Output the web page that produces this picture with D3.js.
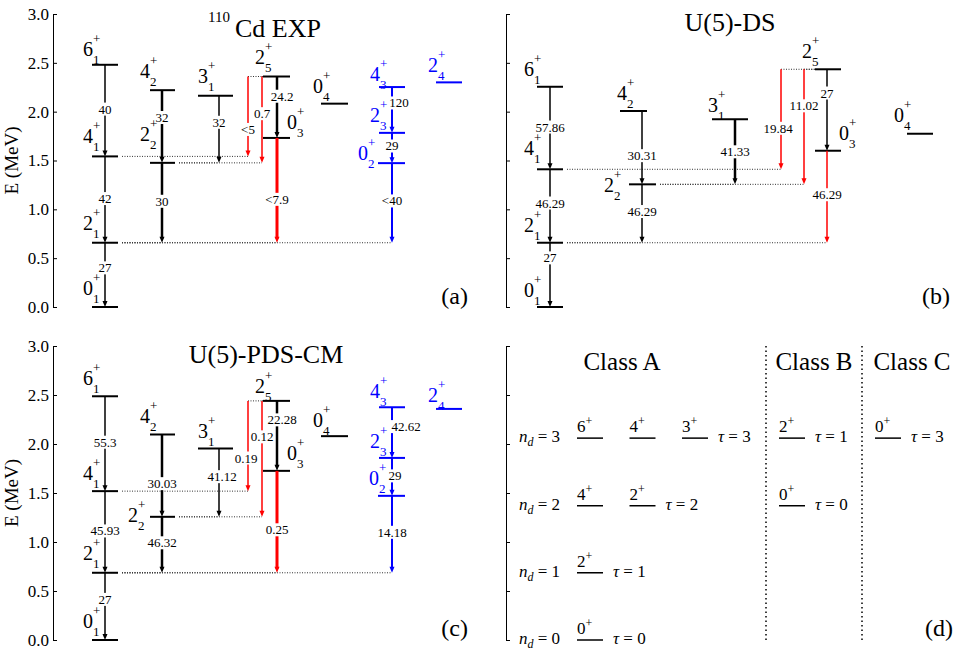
<!DOCTYPE html>
<meta charset="utf-8">
<style>
  body { margin: 0; background: #fff; }
  svg text { font-family: "Liberation Serif", "Times New Roman", "DejaVu Serif", serif; }
</style>
<script src="https://d3js.org/d3.v7.min.js"></script>
<div id="chart"></div>
<script>
// ---------------- data ----------------
// levels: name = J_index, energies in MeV
var expLevels = ["0_1","2_1","4_1","6_1","2_2","4_2","3_1","2_5","0_3","0_4","0_2","2_3","4_3","2_4"];
var expEnergy = [0, 0.658, 1.542, 2.480, 1.476, 2.220, 2.163, 2.36, 1.731, 2.082, 1.473, 1.783, 2.252, 2.30];

var dsLevels = ["0_1","2_1","4_1","6_1","2_2","4_2","3_1","2_5","0_3","0_4"];
var dsEnergy = [0, 0.658, 1.41, 2.255, 1.256, 2.007, 1.922, 2.434, 1.600, 1.774];

var pdsLevels = ["0_1","2_1","4_1","6_1","2_2","4_2","3_1","2_5","0_3","0_4","0_2","2_3","4_3","2_4"];
var pdsEnergy = [0, 0.686, 1.519, 2.487, 1.257, 2.097, 1.954, 2.44, 1.726, 2.08, 1.471, 1.858, 2.375, 2.358];

// E2 transitions (initial -> final) and B(E2) values in W.u.
var transFrom = ["6_1","4_1","2_1","4_2","2_2","3_1","2_5","2_5","2_5","0_3","4_3","2_3","0_2"];
var transTo   = ["4_1","2_1","0_1","2_2","2_1","2_2","4_1","2_2","0_3","2_1","2_3","0_2","2_1"];
var expBE2 = ["40","42","27","32","30","32","<5","0.7","24.2","<7.9","120","29","<40"];
var dsBE2  = ["57.86","46.29","27","30.31","46.29","41.33","19.84","11.02","27","46.29"];
var pdsBE2 = ["55.3","45.93","27","30.03","46.32","41.12","0.19","0.12","22.28","0.25","42.62","29","14.18"];

// panel (d): U(5) classification
var dClassNames = ["Class A","Class B","Class C"];
var dRowE  = [0, 0.686, 1.37, 2.06];          // n_d = 0..3
var dClass = [0, 0, 0, 0, 0, 0, 0, 1, 1, 2];
var dNd    = [0, 1, 2, 2, 3, 3, 3, 2, 3, 3];
var dJ     = ["0","2","4","2","6","4","3","0","2","0"];
var dTau   = [0, 1, 2, 2, 3, 3, 3, 0, 1, 3];

var yTicks = [0, 0.5, 1.0, 1.5, 2.0, 2.5, 3.0];

// ---------------- layout / style ----------------
var serif = '"Liberation Serif","Times New Roman","DejaVu Serif",serif';
var blueLevels = ["0_2","2_3","4_3","2_4"];
var transColor = ["#000","#000","#000","#000","#000","#000","#f00","#f00","#000","#f00","#00f","#00f","#00f"];

// level columns [x1, x2] and label offsets [dx, dy]
var colsAC = {"0_1":[92,118],"2_1":[92,118],"4_1":[92,118],"6_1":[92,118],"2_2":[150,175],"4_2":[150,175],
  "3_1":[198,233],"2_5":[263,290],"0_3":[263,290],"0_4":[321,348],"0_2":[378,405],"2_3":[379,405],
  "4_3":[379,405],"2_4":[436,462]};
var colsB = {"0_1":[537,563],"2_1":[537,563],"4_1":[537,563],"6_1":[537,563],"4_2":[620,647],"2_2":[629,656],
  "3_1":[712,748],"2_5":[815,841],"0_3":[815,841],"0_4":[907,933]};
var labA = {"0_1":[-9,-12],"2_1":[-9,-13],"4_1":[-9,-13],"6_1":[-9,-9],"4_2":[-10,-12],"2_2":[-10,-22],
  "3_1":[0,-13],"2_5":[-8,-13],"0_3":[24,-9],"0_4":[-8,-11],"4_3":[-9,-6],"2_3":[-9,-11],"0_2":[-20,-3],"2_4":[-8,-10]};
var labB = {"0_1":[-13,-10],"2_1":[-13,-11],"4_1":[-13,-14],"6_1":[-13,-11],"4_2":[-3,-11],"2_2":[-25,8],
  "3_1":[-4,-7],"2_5":[-13,-11],"0_3":[24,-11],"0_4":[-13,-12]};
var labC = {"0_1":[-9,-12],"2_1":[-9,-13],"4_1":[-9,-11],"6_1":[-9,-11],"4_2":[-10,-11],"2_2":[-22,5],
  "3_1":[0,-11],"2_5":[-8,-8],"0_3":[24,-11],"0_4":[-8,-9],"4_3":[-9,-9],"2_3":[-9,-10],"0_2":[-9,-11],"2_4":[-8,-7]};
// arrows: [x, stroke width, label dx, label dy]
var arrA = [[105,1.5,0,-1.5],[105,1.5,0,-1],[105,1.5,0,-7],[162,2.5,0,-9],[162,2.5,0,-1.5],[219,1.5,0,-7],
  [248,1.5,0,13],[262,1.5,0,-6],[277,2.5,5,-11],[277,3,0,9],[392,2,7,-7],[392,2,0,-2],[392,2,0,-2]];
var arrB = [[550,1.5,0,-1],[550,1.5,0,-3],[550,1.5,0,-17],[642,1.5,0,8],[642,1.5,0,-2],[735,2.5,0,0],
  [781,1.5,-3,9],[804,1.5,0,-21],[827,1.5,0,-17],[827,1.5,0,-2]];
var arrC = [[105,1.5,0,-1.5],[105,1.5,0,-1],[105,1.5,0,-7],[162,2.5,0,8],[162,2.5,0,-2],[219,1.5,3,-6],
  [248,1.5,-2,12],[262,1.5,0,-22],[277,2.5,5,-16],[277,3,0,8],[392,2,14,-6],[392,2,3,-1],[392,2,0,-2]];

var svg = d3.select("#chart").append("svg")
  .attr("width", 962).attr("height", 650)
  .style("background", "#fff")
  .attr("font-family", serif);

var x = d3.scaleIdentity();

function drawAxis(axisX, y, withLabels) {
  var ax = d3.axisLeft(y).tickValues(yTicks)
    .tickSizeInner(-4).tickSizeOuter(0).tickPadding(4)
    .tickFormat(withLabels ? d3.format(".1f") : "");
  var g = svg.append("g").attr("transform", "translate(" + axisX + ",0)").call(ax);
  g.attr("font-family", serif).attr("font-size", 17);
  g.selectAll("path, line").attr("stroke", "#000").attr("stroke-width", 1);
  g.selectAll("text").attr("fill", "#000");
}

function drawLevelPanel(p) {
  var y = d3.scaleLinear().domain([0, 3]).range(p.yRange);
  drawAxis(p.axisX, y, p.tickLabels);
  var E = {};
  p.levels.forEach(function(n, i) { E[n] = p.energy[i]; });
  var gDot = svg.append("g"), gLev = svg.append("g"), gArr = svg.append("g"), gLab = svg.append("g");

  function dotted(x1, x2, yy) {
    gDot.append("line").attr("x1", x(x1)).attr("x2", x(x2)).attr("y1", yy).attr("y2", yy)
      .attr("stroke", "#333").attr("stroke-width", 1).attr("stroke-dasharray", "1,1.5");
  }

  // levels
  p.levels.forEach(function(n) {
    var c = p.cols[n], yy = y(E[n]);
    var col = blueLevels.indexOf(n) >= 0 ? "#00f" : "#000";
    gLev.append("line").attr("x1", x(c[0])).attr("x2", x(c[1])).attr("y1", yy).attr("y2", yy)
      .attr("stroke", col).attr("stroke-width", 2);
    var o = p.lab[n], lx = x(c[0]) + o[0], ly = yy + o[1];
    var parts = n.split("_");
    gLab.append("text").attr("x", lx).attr("y", ly).attr("font-size", 20).attr("fill", col).text(parts[0]);
    gLab.append("text").attr("x", lx + 10).attr("y", ly + 8).attr("font-size", 13).attr("fill", col).text(parts[1]);
    gLab.append("text").attr("x", lx + 10).attr("y", ly - 13).attr("font-size", 13).attr("fill", col).text("+");
  });

  // transitions
  p.be2.forEach(function(v, i) {
    var f = transFrom[i], t = transTo[i], a = p.arr[i];
    var ax = x(a[0]), yS = y(E[f]), yT = y(E[t]);
    var cf = p.cols[f], ct = p.cols[t];
    if (a[0] < cf[0]) dotted(a[0], cf[0], yS);
    if (a[0] > ct[1]) dotted(ct[1] + 4, a[0], yT);
    var col = transColor[i];
    gArr.append("line").attr("x1", ax).attr("x2", ax).attr("y1", yS).attr("y2", yT - 4)
      .attr("stroke", col).attr("stroke-width", a[1]);
    gArr.append("path").attr("d", "M" + (ax - 2.5) + "," + (yT - 6) + "L" + (ax + 2.5) + "," + (yT - 6) + "L" + ax + "," + yT + "Z")
      .attr("fill", col);
    var lbl = gArr.append("g");
    var tx = lbl.append("text").attr("x", ax + a[2]).attr("y", (yS + yT) / 2 + a[3])
      .attr("text-anchor", "middle").attr("dominant-baseline", "central")
      .attr("font-size", 13).attr("fill", "#000").text(v);
    var bb = tx.node().getBBox();
    lbl.insert("rect", "text").attr("x", bb.x - 0.5).attr("y", bb.y + 1).attr("width", bb.width + 1)
      .attr("height", bb.height - 2).attr("fill", "#fff");
  });

  svg.append("text").attr("x", p.tag[0]).attr("y", p.tag[1]).attr("text-anchor", "end")
    .attr("font-size", 24).text(p.tag[2]);
  if (p.tickLabels) {
    svg.append("text").attr("transform", "translate(18," + (p.yRange[0] + p.yRange[1]) / 2 + ") rotate(-90)")
      .attr("text-anchor", "middle").attr("font-size", 19).text("E (MeV)");
  }
}

drawLevelPanel({levels: expLevels, energy: expEnergy, be2: expBE2, cols: colsAC, lab: labA, arr: arrA,
  axisX: 53, yRange: [307, 14], tickLabels: true, tag: [468, 304, "(a)"]});
drawLevelPanel({levels: dsLevels, energy: dsEnergy, be2: dsBE2, cols: colsB, lab: labB, arr: arrB,
  axisX: 506, yRange: [307, 14], tickLabels: false, tag: [950, 304, "(b)"]});
drawLevelPanel({levels: pdsLevels, energy: pdsEnergy, be2: pdsBE2, cols: colsAC, lab: labC, arr: arrC,
  axisX: 53, yRange: [640, 346], tickLabels: true, tag: [468, 636, "(c)"]});

// titles
svg.append("text").attr("x", 208).attr("y", 22).attr("font-size", 15).text("110");
svg.append("text").attr("x", 235).attr("y", 37).attr("font-size", 26).text("Cd EXP");
svg.append("text").attr("x", 730).attr("y", 31).attr("text-anchor", "middle").attr("font-size", 26).text("U(5)-DS");
svg.append("text").attr("x", 266).attr("y", 363).attr("text-anchor", "middle").attr("font-size", 26).text("U(5)-PDS-CM");

// ---------------- panel (d) ----------------
(function() {
  var y = d3.scaleLinear().domain([0, 3]).range([640, 346]);
  drawAxis(506, y, false);
  var classX0 = [577, 779, 875], slot = 52.5, classMid = [622, 814, 912], dividers = [766, 862];
  dividers.forEach(function(dx) {
    svg.append("line").attr("x1", x(dx)).attr("x2", x(dx)).attr("y1", 346).attr("y2", 640)
      .attr("stroke", "#000").attr("stroke-width", 1.5).attr("stroke-dasharray", "1.5,3");
  });
  dClassNames.forEach(function(c, i) {
    svg.append("text").attr("x", classMid[i]).attr("y", 370).attr("text-anchor", "middle")
      .attr("font-size", 25).text(c);
  });
  dRowE.forEach(function(e, nd) {
    var t = svg.append("text").attr("x", 519).attr("y", y(e) + 4).attr("font-size", 17);
    t.append("tspan").attr("font-style", "italic").text("n");
    t.append("tspan").attr("font-style", "italic").attr("font-size", 12).attr("dy", 4).text("d");
    t.append("tspan").attr("dy", -4).text(" = " + nd);
  });
  var count = {};
  dJ.forEach(function(j, i) {
    var key = dClass[i] + "_" + dNd[i];
    var k = count[key] || 0; count[key] = k + 1;
    var x1 = classX0[dClass[i]] + k * slot, yy = y(dRowE[dNd[i]]);
    svg.append("line").attr("x1", x(x1)).attr("x2", x(x1 + 26)).attr("y1", yy).attr("y2", yy)
      .attr("stroke", "#000").attr("stroke-width", 1.5);
    var t = svg.append("text").attr("x", x(x1)).attr("y", yy - 6).attr("font-size", 17);
    t.append("tspan").text(j);
    t.append("tspan").attr("font-size", 12).attr("dy", -7).text("+");
  });
  // tau labels after the last level of each group
  var done = {};
  dJ.forEach(function(j, i) {
    var key = dClass[i] + "_" + dNd[i];
    if (done[key]) return; done[key] = true;
    var n = count[key];
    var xe = classX0[dClass[i]] + (n - 1) * slot + 26 + 10;
    var t = svg.append("text").attr("x", x(xe)).attr("y", y(dRowE[dNd[i]]) + 4).attr("font-size", 17);
    t.append("tspan").attr("font-style", "italic").text("\u03C4");
    t.append("tspan").text(" = " + dTau[i]);
  });
  svg.append("text").attr("x", 953).attr("y", 636).attr("text-anchor", "end").attr("font-size", 24).text("(d)");
})();
</script>
